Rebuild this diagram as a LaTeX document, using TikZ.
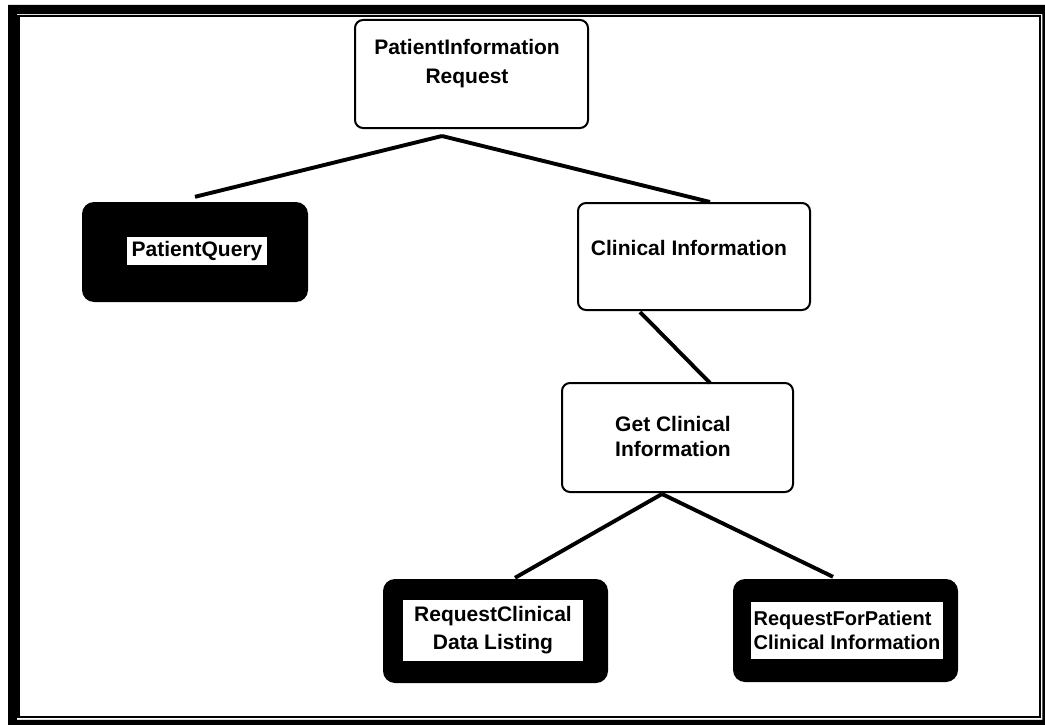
\documentclass[tikz,border=0pt]{standalone}
\usepackage{fontspec}
\setmainfont{Liberation Sans}
\begin{document}
\begin{tikzpicture}[x=1pt,y=-1pt,
  whitebox/.style={draw=black, line width=2pt, rounded corners=8pt, fill=white, inner sep=0pt},
  blackbox/.style={fill=black, rounded corners=12pt, inner sep=0pt},
  txt/.style={font=\fontsize{21}{28}\selectfont\bfseries, align=center, inner sep=0pt},
  plate/.style={fill=white, inner sep=0pt},
  link/.style={line width=3.9pt}]
\useasboundingbox (0,0) rectangle (1045,725);

% double page frame
\fill[black, even odd rule] (8,5) rectangle (1050,730) (16.8,14.2) rectangle (1042.3,719.8);
\draw[line width=2.4pt] (18.6,16.1) rectangle (1040.2,717.2);

% root
\node[whitebox, minimum width=233pt, minimum height=108pt] (pir) at (471.5,74) {};
\node[txt, font=\fontsize{21}{29}\selectfont\bfseries] (pirtext) at (467,64) {PatientInformation\\Request};

% left branch
\node[blackbox, minimum width=226pt, minimum height=100pt] (pq) at (195,252) {};
\node[txt, plate, minimum width=140pt, minimum height=28pt] (pqp) at (197,251) {PatientQuery};

% right branch
\node[whitebox, minimum width=232pt, minimum height=107pt] (ci) at (694,256.5) {};
\node[txt] (citext) at (689,248) {Clinical Information};

\node[whitebox, minimum width=231pt, minimum height=109pt] (gci) at (677.5,437.5) {};
\node[txt, align=left, font=\fontsize{21}{25}\selectfont\bfseries] (gcitext) at (673,436) {Get Clinical\\Information};

% leaves
\node[blackbox, minimum width=225pt, minimum height=104pt] (rcdl) at (495.5,631) {};
\node[txt, plate, minimum width=180pt, minimum height=61pt] (rcdlp) at (493,630.5) {RequestClinical\\Data Listing};

\node[blackbox, minimum width=225pt, minimum height=103pt] (rfpci) at (845.5,630.5) {};
\node[txt, plate, align=left, font=\fontsize{20}{24}\selectfont\bfseries, minimum width=192pt, minimum height=57pt] (rfpcip) at (847,630.5) {RequestForPatient\\Clinical Information};

% connectors
\draw[link] ([shift={(-29.5,7)}]pir.south) -- ([shift={(0,-5)}]pq.north);
\draw[link] ([shift={(-29.5,7)}]pir.south) -- ([shift={(16,0)}]ci.north);
\draw[link] ([shift={(-54,1)}]ci.south) -- ([shift={(32.5,1)}]gci.north);
\draw[link] ([shift={(-15.5,1)}]gci.south) -- ([shift={(19.5,-1)}]rcdl.north);
\draw[link] ([shift={(-15.5,1)}]gci.south) -- ([shift={(-12.5,-2)}]rfpci.north);
\end{tikzpicture}
\end{document}
